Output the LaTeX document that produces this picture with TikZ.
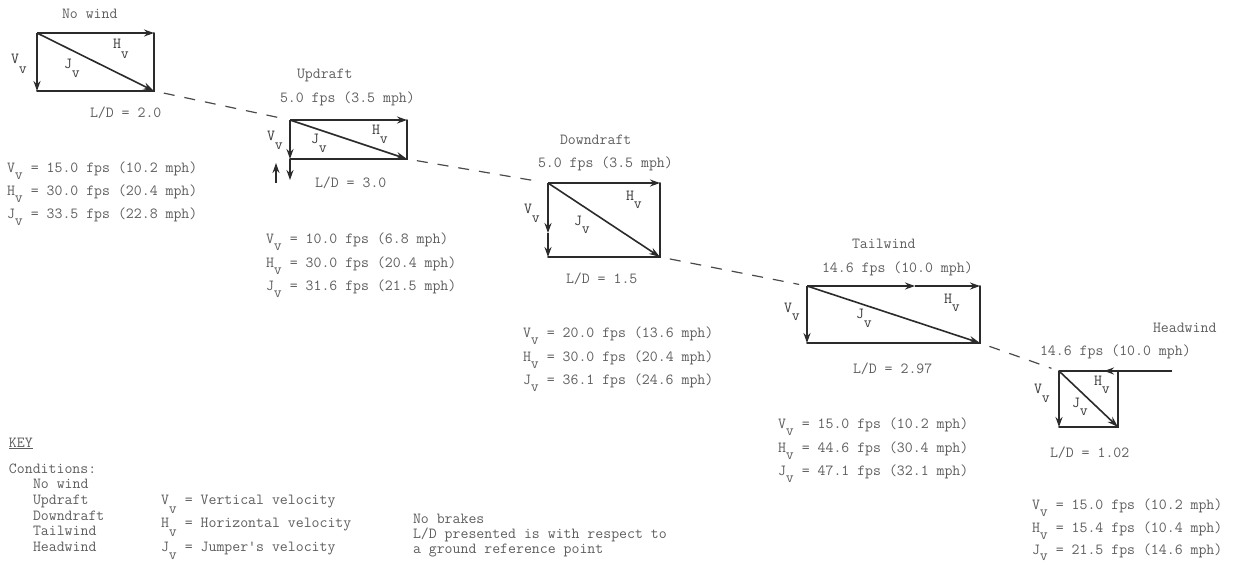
\documentclass[tikz,border=0pt]{standalone}
\usetikzlibrary{arrows.meta}
\definecolor{ink}{HTML}{2B2B2B}
\definecolor{txt}{HTML}{5E5E5E}
\definecolor{lbl}{HTML}{3A3A3A}
\newcommand\vs[2][7pt]{#2\raisebox{-#1}{v}}
\begin{document}
\begin{tikzpicture}[x=1pt,y=-1pt,
  every node/.style={inner sep=0pt, outer sep=0pt, anchor=base west,
    font=\ttfamily\fontsize{15.4}{18}\selectfont, text=txt},
  lab/.style={text=lbl},
  boxedge/.style={draw=ink, line width=2pt, line cap=round},
  vec/.style={draw=ink, line width=2pt, -{Stealth[length=10pt,width=7pt]}},
  diag/.style={draw=ink, line width=1.6pt, -{Stealth[length=11pt,width=7pt]}},
  glide/.style={draw=ink!85, line width=1.2pt, dash pattern=on 11pt off 10pt, shorten <=10pt, shorten >=8pt},
]
\useasboundingbox[fill=white] (0,0) rectangle (1235,565);

% ---------- No wind ----------
\coordinate (a1) at (37,33);  \coordinate (a2) at (154,33);
\coordinate (a3) at (37,91);  \coordinate (a4) at (154,91);
\draw[boxedge] (a3) -- (a4) -- (a2);
\draw[vec] (a1) -- (a2);
\draw[vec] (a1) -- (a3);
\draw[diag] (a1) -- (a4);
\node (nwT) at (62,18) {No wind};
\node[lab] (nwV) at (11,63) {\vs[10pt]{V}};
\node[lab] (nwJ) at (64,68) {\vs[9pt]{J}};
\node[lab] (nwH) at (113,48) {\vs[10pt]{H}};
\node (nwL) at (90,117) {L/D = 2.0};
\node (nwv1) at (7,172) {\vs{V} = 15.0 fps (10.2 mph)};
\node (nwv2) at (7,195) {\vs{H} = 30.0 fps (20.4 mph)};
\node (nwv3) at (7,218) {\vs{J} = 33.5 fps (22.8 mph)};

% ---------- Updraft ----------
\coordinate (b1) at (290,120); \coordinate (b2) at (407,120);
\coordinate (b3) at (290,159); \coordinate (b4) at (407,159);
\coordinate (b5) at (290,180);
\coordinate (b6) at (276,183); \coordinate (b7) at (276,163);
\draw[boxedge, line width=1.4pt] (b3) -- (b4) -- (b2);
\draw[vec] (b1) -- (b2);
\draw[vec] (b1) -- (b3);
\draw[vec] (b3) -- (b5);
\draw[vec, line width=1.4pt] (b6) -- (b7);
\draw[diag] (b1) -- (b4);
\node (upT) at (297,78) {Updraft};
\node (upW) at (280,102) {5.0 fps (3.5 mph)};
\node[lab] (upV) at (267,140) {\vs[9pt]{V}};
\node[lab] (upJ) at (311,143) {\vs[9pt]{J}};
\node[lab] (upH) at (372,134) {\vs[9pt]{H}};
\node (upL) at (315,187) {L/D = 3.0};
\node (upv1) at (266,243) {\vs{V} = 10.0 fps (6.8 mph)};
\node (upv2) at (266,267) {\vs{H} = 30.0 fps (20.4 mph)};
\node (upv3) at (266,290) {\vs{J} = 31.6 fps (21.5 mph)};

% ---------- Downdraft ----------
\coordinate (c1) at (548,183); \coordinate (c2) at (660,183);
\coordinate (c3) at (548,257); \coordinate (c4) at (660,257);
\coordinate (c5) at (548,233);
\draw[boxedge] (c3) -- (c4) -- (c2);
\draw[vec] (c1) -- (c2);
\draw[vec] (c1) -- (c5);
\draw[vec] (c5) -- (c3);
\draw[diag] (c1) -- (c4);
\node (dnT) at (560,144) {Downdraft};
\node (dnW) at (538,167) {5.0 fps (3.5 mph)};
\node[lab] (dnV) at (524,213) {\vs[9pt]{V}};
\node[lab] (dnJ) at (574,225) {\vs[8pt]{J}};
\node[lab] (dnH) at (626,200) {\vs[8pt]{H}};
\node (dnL) at (566,283) {L/D = 1.5};
\node (dnv1) at (523,337) {\vs{V} = 20.0 fps (13.6 mph)};
\node (dnv2) at (523,361) {\vs{H} = 30.0 fps (20.4 mph)};
\node (dnv3) at (523,384) {\vs{J} = 36.1 fps (24.6 mph)};

% ---------- Tailwind ----------
\coordinate (d1) at (807,286); \coordinate (d2) at (980,286);
\coordinate (d3) at (807,343); \coordinate (d4) at (980,343);
\coordinate (d5) at (915,286);
\draw[boxedge] (d3) -- (d4) -- (d2);
\draw[vec, line width=1.6pt] (d1) -- (d5);
\draw[vec] (d5) -- (d2);
\draw[vec] (d1) -- (d3);
\draw[diag] (d1) -- (d4);
\node (twT) at (852,248) {Tailwind};
\node (twW) at (822,272) {14.6 fps (10.0 mph)};
\node[lab] (twV) at (784,312) {\vs[8pt]{V}};
\node[lab] (twJ) at (856,318) {\vs[9pt]{J}};
\node[lab] (twH) at (944,303) {\vs[8pt]{H}};
\node (twL) at (853,373) {L/D = 2.97};
\node (twv1) at (778,428) {\vs{V} = 15.0 fps (10.2 mph)};
\node (twv2) at (778,452) {\vs{H} = 44.6 fps (30.4 mph)};
\node (twv3) at (778,475) {\vs{J} = 47.1 fps (32.1 mph)};

% ---------- Headwind ----------
\coordinate (e1) at (1059,371); \coordinate (e2) at (1118,371);
\coordinate (e3) at (1059,427); \coordinate (e4) at (1118,427);
\coordinate (e5) at (1172,371); \coordinate (e6) at (1104,371);
\draw[boxedge] (e3) -- (e4) -- (e2) -- (e1);
\draw[vec] (e5) -- (e6);
\draw[vec] (e1) -- (e3);
\draw[diag] (e1) -- (e4);
\node (hwT) at (1153,332) {Headwind};
\node (hwW) at (1040,355) {14.6 fps (10.0 mph)};
\node[lab] (hwV) at (1034,393) {\vs[9pt]{V}};
\node[lab] (hwJ) at (1072,407) {\vs[8pt]{J}};
\node[lab] (hwH) at (1094,385) {\vs[8pt]{H}};
\node (hwL) at (1050,457) {L/D = 1.02};
\node (hwv1) at (1032,509) {\vs{V} = 15.0 fps (10.2 mph)};
\node (hwv2) at (1032,532) {\vs{H} = 15.4 fps (10.4 mph)};
\node (hwv3) at (1032,554) {\vs[6pt]{J} = 21.5 fps (14.6 mph)};

% ---------- glide path ----------
\draw[glide] (a4) -- (b1);
\draw[glide] (b4) -- (c1);
\draw[glide] (c4) -- (d1);
\draw[glide] (d4) -- (e1);

% ---------- Key ----------
\node (kK) at (9,447) {\underline{KEY}};
\node (kC) at (9,473) {Conditions:};
\node (k1) at (33,488) {No wind};
\node (k2) at (33,504) {Updraft};
\node (k3) at (33,520) {Downdraft};
\node (k4) at (33,535) {Tailwind};
\node (k5) at (33,551) {Headwind};
\node (kV) at (161,504) {\vs[9pt]{V} = Vertical velocity};
\node (kH) at (161,527) {\vs[9pt]{H} = Horizontal velocity};
\node (kJ) at (161,551) {\vs[8pt]{J} = Jumper's velocity};
\node (kn1) at (413,523) {No brakes};
\node (kn2) at (413,538) {L/D presented is with respect to};
\node (kn3) at (413,553) {a ground reference point};
\end{tikzpicture}
\end{document}
